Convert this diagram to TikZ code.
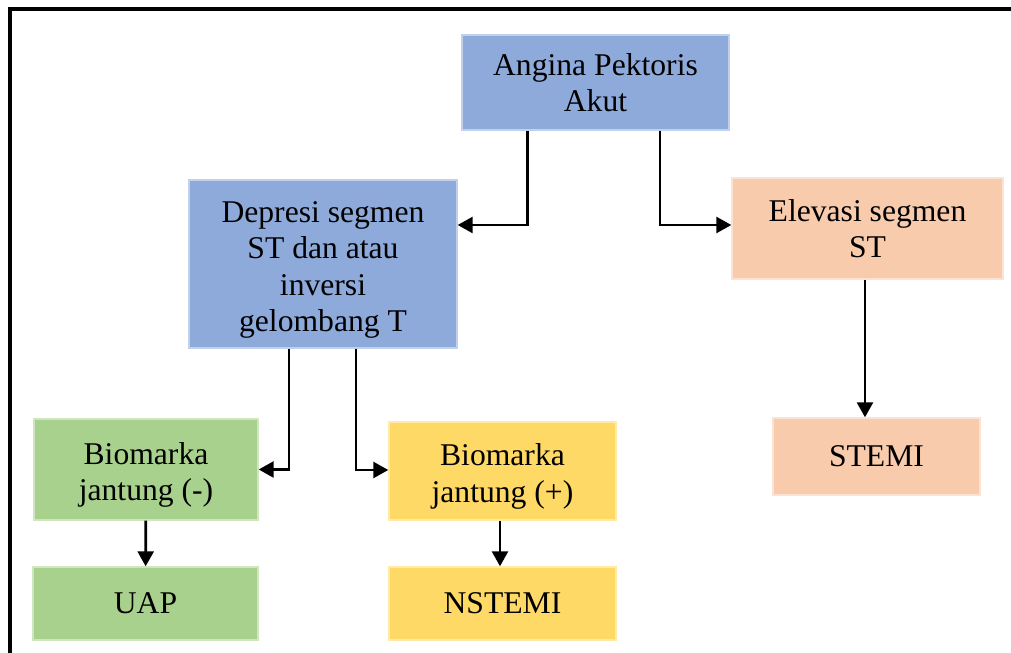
\documentclass[tikz,border=0pt]{standalone}
\usepackage{fontspec}
\setmainfont{Liberation Serif}
\usepackage{tikz}
\usetikzlibrary{arrows.meta,positioning}
\definecolor{acsblue}{HTML}{8EAADB}
\definecolor{acsorange}{HTML}{F8CBAD}
\definecolor{acsgreen}{HTML}{A9D18E}
\definecolor{acsyellow}{HTML}{FFD966}
\newcommand{\topgap}{\rule{0pt}{18.5pt}}

\begin{document}
\begin{tikzpicture}[
 box/.style={draw=#1!55!white,fill=#1,line width=0.8pt,
             align=center,inner sep=0pt,
             font=\fontsize{18}{20.8}\selectfont},
 arrow/.style={-{Triangle[length=3mm,width=3.2mm]},line width=1.5pt},
 frame/.style={line width=2.3pt}]
 \useasboundingbox (0,0) rectangle (20.22,-13.06);
 \draw[frame] (0.2,-13.06) -- (0.2,-0.18) -- (20.22,-0.18);
 \node[box=acsblue,minimum width=5.34cm,minimum height=1.9cm] (apa) at (11.91,-1.65)
   {Angina Pektoris\\Akut};
 \node[box=acsblue,minimum width=5.36cm,minimum height=3.36cm] (dep) at (6.46,-5.28)
   {\topgap Depresi segmen\\ST dan atau\\inversi\\gelombang T};
 \node[box=acsorange,minimum width=5.42cm,minimum height=2.02cm] (elev) at (17.35,-4.57)
   {Elevasi segmen\\ST};
 \node[box=acsgreen,minimum width=4.48cm,minimum height=2.02cm] (bneg) at (2.92,-9.39)
   {\topgap Biomarka\\jantung (-)};
 \node[box=acsyellow,minimum width=4.54cm,minimum height=1.96cm] (bpos) at (10.05,-9.42)
   {\topgap Biomarka\\jantung (+)};
 \node[box=acsorange,minimum width=4.14cm,minimum height=1.54cm] (stemi) at (17.53,-9.13)
   {STEMI};
 \node[box=acsgreen,minimum width=4.5cm,minimum height=1.46cm] (uap) at (2.91,-12.07)
   {UAP};
 \node[box=acsyellow,minimum width=4.54cm,minimum height=1.46cm] (nstemi) at (10.05,-12.07)
   {NSTEMI};
 \draw[arrow] ([xshift=-1.36cm]apa.south) |- ([yshift=0.78cm]dep.east);
 \draw[arrow] ([xshift=1.29cm]apa.south) |- ([yshift=0.07cm]elev.west);
 \draw[arrow] ([xshift=-0.68cm]dep.south) |- (bneg.east);
 \draw[arrow] ([xshift=0.66cm]dep.south) |- ([yshift=0.02cm]bpos.west);
 \draw[arrow] ([xshift=-0.05cm]elev.south) -- ([xshift=-0.05cm]elev.south |- stemi.north);
 \draw[arrow] (bneg) -- (uap);
 \draw[arrow] ([xshift=-0.05cm]bpos.south) -- ([xshift=-0.05cm]bpos.south |- nstemi.north);
\end{tikzpicture}
\end{document}
